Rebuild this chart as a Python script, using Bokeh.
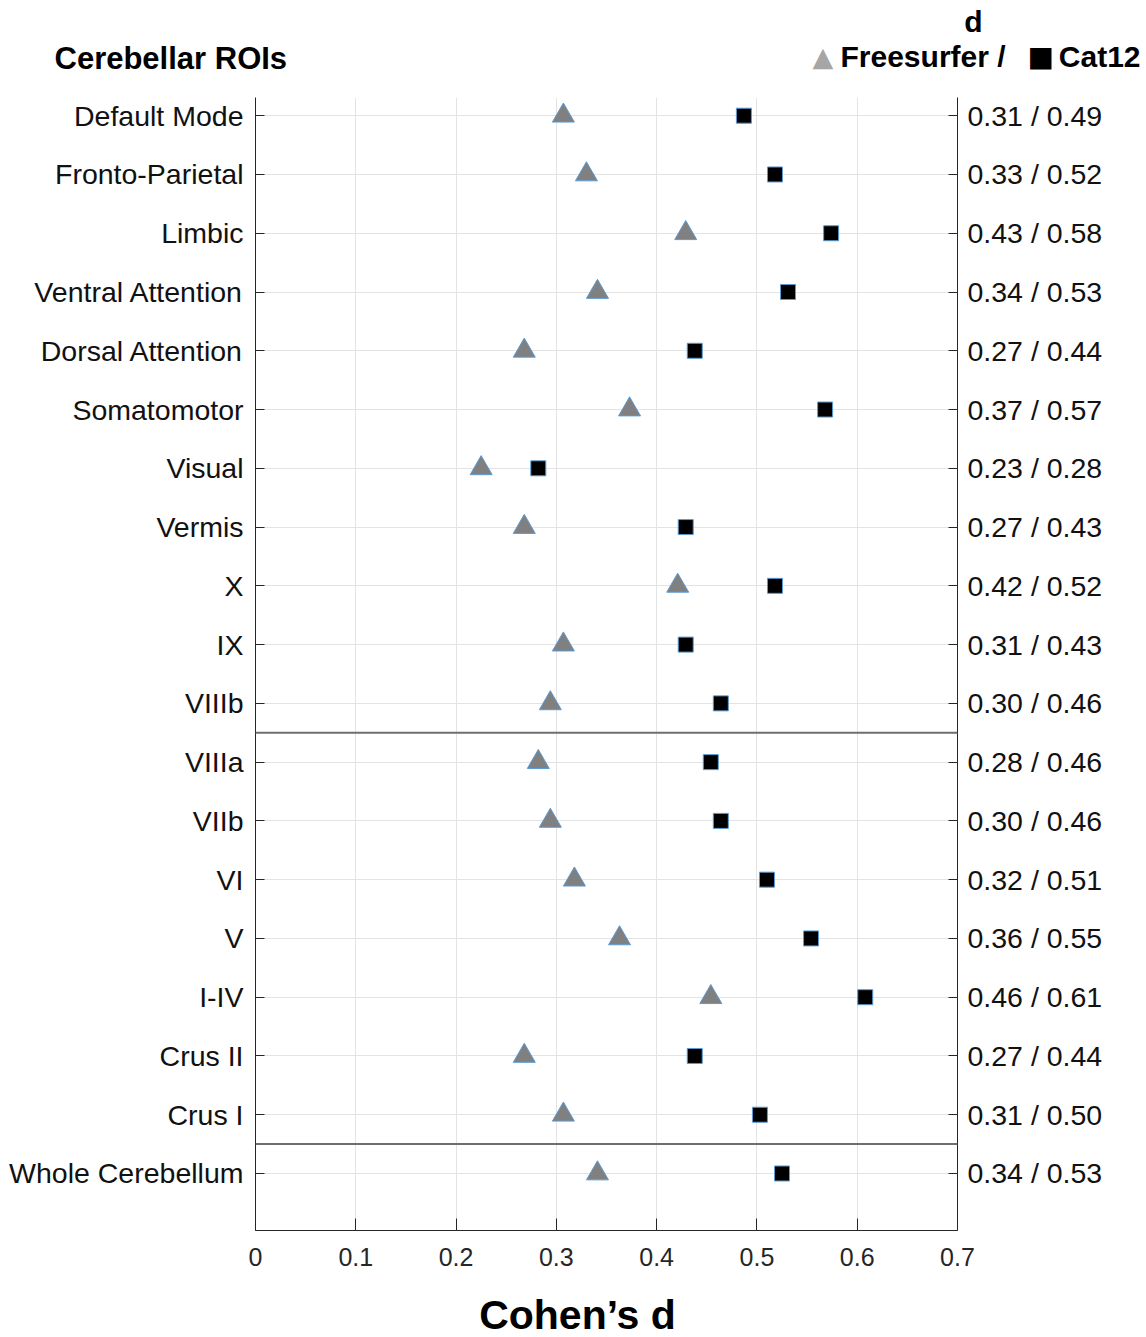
from bokeh.plotting import figure
from bokeh.models import (LinearAxis, FixedTicker, Range1d, Span, Label, ColumnDataSource)
from bokeh.layouts import column
from bokeh.embed import file_html
from bokeh.resources import INLINE

# ---- data (top to bottom as displayed) ----
regions = ["Default Mode", "Fronto-Parietal", "Limbic", "Ventral Attention",
           "Dorsal Attention", "Somatomotor", "Visual", "Vermis", "X", "IX",
           "VIIIb", "VIIIa", "VIIb", "VI", "V", "I-IV", "Crus II", "Crus I",
           "Whole Cerebellum"]
freesurfer_d = [0.307, 0.330, 0.429, 0.341, 0.268, 0.373, 0.225, 0.268, 0.421, 0.307,
                0.294, 0.282, 0.294, 0.318, 0.363, 0.454, 0.268, 0.307, 0.341]
cat12_d = [0.487, 0.518, 0.574, 0.531, 0.438, 0.568, 0.282, 0.429, 0.518, 0.429,
           0.464, 0.454, 0.464, 0.510, 0.554, 0.608, 0.438, 0.503, 0.525]
d_labels = ["0.31 / 0.49", "0.33 / 0.52", "0.43 / 0.58", "0.34 / 0.53", "0.27 / 0.44",
            "0.37 / 0.57", "0.23 / 0.28", "0.27 / 0.43", "0.42 / 0.52", "0.31 / 0.43",
            "0.30 / 0.46", "0.28 / 0.46", "0.30 / 0.46", "0.32 / 0.51", "0.36 / 0.55",
            "0.46 / 0.61", "0.27 / 0.44", "0.31 / 0.50", "0.34 / 0.53"]
x_ticks = [0, 0.1, 0.2, 0.3, 0.4, 0.5, 0.6, 0.7]
x_tick_labels = ["0", "0.1", "0.2", "0.3", "0.4", "0.5", "0.6", "0.7"]
# group boundaries: after "VIIIb" and after "Crus I"
group_breaks_after = ["VIIIb", "Crus I"]

n = len(regions)
ypos = [n - i for i in range(n)]
pos_of = dict(zip(regions, ypos))
separators = [pos_of[r] - 0.5 for r in group_breaks_after]

FONT = "Liberation Sans"
AX = "#262626"
W = 1146

# ---------------- main plot ----------------
p = figure(width=W, height=1183, output_backend="svg", toolbar_location=None,
           x_range=Range1d(0, 0.7), y_range=Range1d(0.03, 19.31),
           min_border_left=255, min_border_right=189, min_border_top=0,
           min_border_bottom=50, outline_line_color=None, background_fill_color="white")

p.yaxis.ticker = FixedTicker(ticks=ypos)
p.yaxis.major_label_overrides = {y: r for y, r in zip(ypos, regions)}
ra = LinearAxis(ticker=FixedTicker(ticks=ypos),
                major_label_overrides={y: l for y, l in zip(ypos, d_labels)})
p.add_layout(ra, "right")
p.xaxis.ticker = FixedTicker(ticks=x_ticks)
p.xaxis.major_label_overrides = {t: l for t, l in zip(x_ticks, x_tick_labels)}

for ax in [p.yaxis[0], ra]:
    ax.major_tick_in = 9
    ax.major_tick_out = 0
    ax.minor_tick_line_color = None
    ax.axis_line_color = AX
    ax.major_tick_line_color = AX
    ax.major_label_text_font = FONT
    ax.major_label_text_font_size = "28.5px"
    ax.major_label_text_color = "#111111"
p.yaxis[0].major_label_standoff = 12
ra.major_label_standoff = 10

xa = p.xaxis[0]
xa.major_tick_in = 12
xa.major_tick_out = 0
xa.minor_tick_line_color = None
xa.axis_line_color = AX
xa.major_tick_line_color = AX
xa.major_label_text_font = FONT
xa.major_label_text_font_size = "25px"
xa.major_label_text_color = AX
xa.major_label_standoff = 17

p.xgrid.ticker = FixedTicker(ticks=x_ticks)
p.ygrid.ticker = FixedTicker(ticks=ypos)
p.xgrid.grid_line_color = "#e3e3e3"
p.ygrid.grid_line_color = "#e3e3e3"

for s in separators:
    p.add_layout(Span(location=s, dimension="width", line_color="#6e6e6e", line_width=2))

src = ColumnDataSource(dict(y=ypos, fs=freesurfer_d, cat=cat12_d))
p.scatter("fs", "y", source=src, marker="triangle", size=22,
          fill_color="#808080", line_color="#5b9bd5", line_width=1)
p.scatter("cat", "y", source=src, marker="square", size=15,
          fill_color="black", line_color="#5b9bd5", line_width=1)


def blank(h):
    f = figure(width=W, height=h, output_backend="svg", toolbar_location=None,
               x_range=Range1d(0, W), y_range=Range1d(h, 0),
               x_axis_type=None, y_axis_type=None, min_border=0,
               outline_line_color=None)
    f.frame_align = False
    f.xgrid.visible = False
    f.ygrid.visible = False
    return f


def lab(f, x, y, text, size="30px", color="black", align="left", font=FONT):
    f.add_layout(Label(x=x, y=y, text=text, text_font=font, text_font_style="bold",
                       text_font_size=size, text_color=color,
                       text_baseline="alphabetic", text_align=align))


top = blank(97)
lab(top, 54, 58, "Cerebellar ROIs", size="31px")
lab(top, 973, 21, "d", align="center")
lab(top, 812, 56, "▲", color="#a6a6a6", font="DejaVu Sans", size="27px")
lab(top, 840, 56, "Freesurfer /")
lab(top, 1027, 56, "■", font="DejaVu Sans", size="28px")
lab(top, 1140, 56, "Cat12", align="right")

bot = blank(57)
lab(bot, 577, 34, "Cohen’s d", size="41px", align="center")

layout = column(top, p, bot, spacing=0)
open("out.html", "w").write(file_html(layout, INLINE))
